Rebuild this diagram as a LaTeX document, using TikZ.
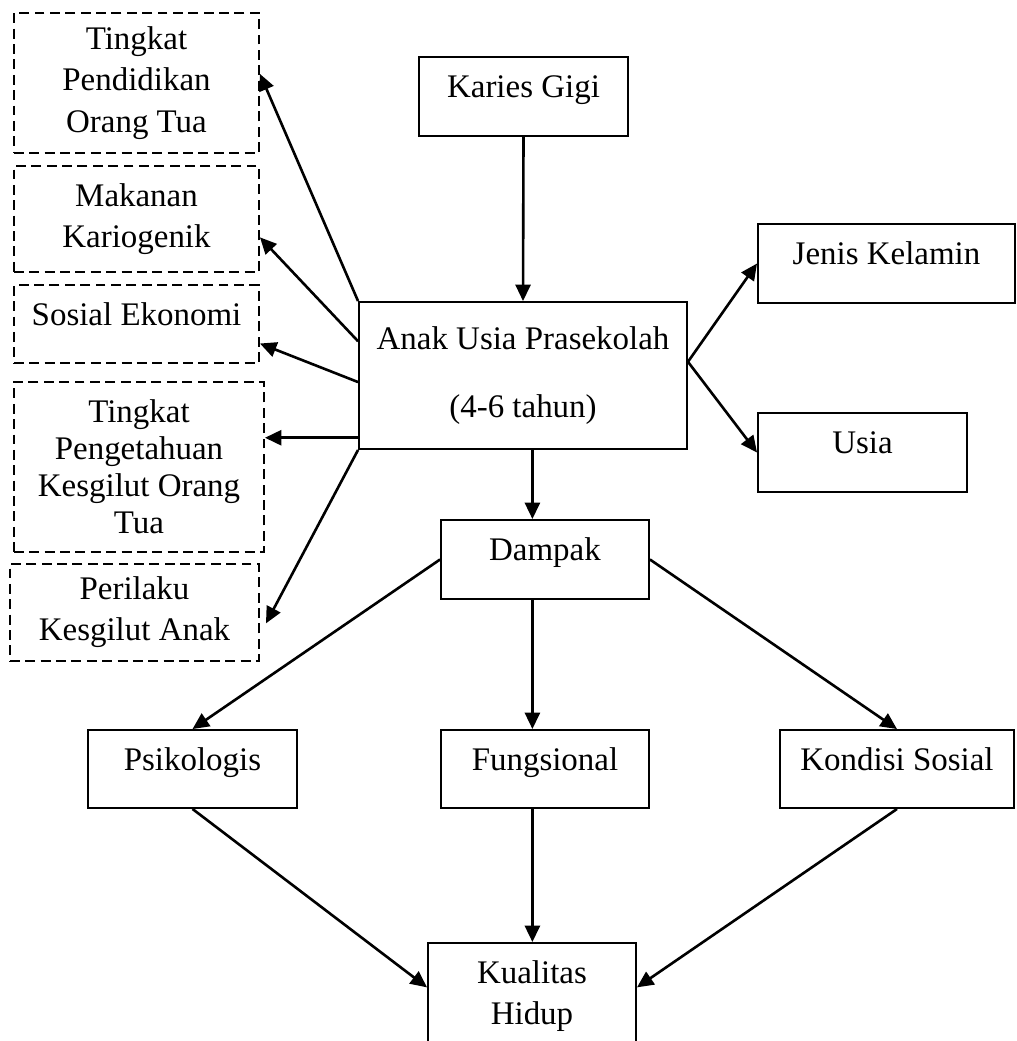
\documentclass[tikz,border=0pt]{standalone}
\usepackage{fontspec}
\setmainfont{Liberation Serif}
\usetikzlibrary{arrows.meta,positioning,calc}

\newcommand{\px}{0.0128cm}

\begin{document}
\begin{tikzpicture}[x=0.0128cm, y=-0.0128cm,
    font=\fontsize{12pt}{15pt}\selectfont,
    box/.style={draw, line width=0.7pt, inner sep=0pt, align=center, minimum height=79*\px},
    dbox/.style={box, dash pattern=on 3.6pt off 2pt},
    oneline/.style={text height=8.5pt, text depth=7.5pt},
    arr/.style={-{Triangle[length=6pt, width=5.5pt]}, line width=0.95pt}]
    \useasboundingbox (0,0) rectangle (1016,1041);

    % Main boxes
    \node[box, oneline, minimum width=209*\px] (karies) at (523.5,96.5) {Karies Gigi};
    \node[box, minimum width=328*\px, minimum height=147*\px] (anak) at (523,375.5) {Anak Usia Prasekolah\\[10pt](4-6 tahun)};
    \node[box, oneline, minimum width=257*\px] (jenis) at (886.5,263.5) {Jenis Kelamin};
    \node[box, oneline, minimum width=209*\px] (usia) at (862.5,452.5) {Usia};
    \node[box, oneline, minimum width=208*\px] (dampak) at (545,559.5) {Dampak};
    \node[box, oneline, minimum width=209*\px, minimum height=78*\px] (psiko) at (192.5,769) {Psikologis};
    \node[box, oneline, minimum width=208*\px, minimum height=78*\px] (fungsi) at (545,769) {Fungsional};
    \node[box, oneline, minimum width=234*\px, minimum height=78*\px] (kondisi) at (897,769) {Kondisi Sosial};
    \node[box, minimum width=208*\px, minimum height=106*\px] (kualitas) at (532,996) {Kualitas\\Hidup};

    % Factors
    \node[dbox, minimum width=245*\px, minimum height=140*\px] (didik) at (136.5,83) {Tingkat\\Pendidikan\\Orang Tua};
    \node[dbox, minimum width=245*\px, minimum height=106*\px] (makan) at (136.5,219) {Makanan\\Kariogenik};
    \node[dbox, oneline, minimum width=245*\px, minimum height=78*\px] (sosek) at (136.5,324) {Sosial Ekonomi};
    \node[dbox, font=\fontsize{12pt}{13.5pt}\selectfont, minimum width=250*\px, minimum height=170*\px] (tahu) at (139,467) {Tingkat\\Pengetahuan\\Kesgilut Orang\\Tua};
    \node[dbox, minimum width=249*\px, minimum height=97*\px] (perilaku) at (134.5,612.5) {Perilaku\\Kesgilut Anak};

    % Left arrows
    \coordinate (t4) at ($(anak.north west)!0.918!(anak.south west)$);
    \draw[arr] (anak.north west) -- ($(didik.north east)!0.436!(didik.south east)$);
    \draw[arr] ($(anak.north west)!0.27!(anak.south west)$) -- ($(makan.north east)!0.67!(makan.south east)$);
    \draw[arr] ($(anak.north west)!0.544!(anak.south west)$) -- ($(sosek.north east)!0.744!(sosek.south east)$);
    \draw[arr] (t4) -- (t4 -| tahu.east);
    \draw[arr] (anak.south west) -- ($(perilaku.north east)!0.61!(perilaku.south east)+(6,0)$);

    % Top and right
    \coordinate (ae) at ($(anak.north east)!0.408!(anak.south east)$);
    \draw[arr] (karies.south) -- (anak.north);
    \draw[arr] (ae) -- (jenis.west);
    \draw[arr] (ae) -- (usia.west);

    % Impact
    \coordinate (dtop) at ($(dampak.north west)!0.44!(dampak.north east)$);
    \draw[arr] (anak.south -| dtop) -- (dtop);
    \draw[arr] (dampak.west) -- (psiko.north);
    \draw[arr] (dampak.south -| dtop) -- (fungsi.north -| dtop);
    \draw[arr] (dampak.east) -- (kondisi.north);

    % Quality of life
    \draw[arr] (psiko.south) -- ($(kualitas.north west)!0.42!(kualitas.south west)$);
    \draw[arr] (fungsi.south -| dtop) -- (kualitas.north -| dtop);
    \draw[arr] (kondisi.south) -- ($(kualitas.north east)!0.42!(kualitas.south east)$);
\end{tikzpicture}
\end{document}
